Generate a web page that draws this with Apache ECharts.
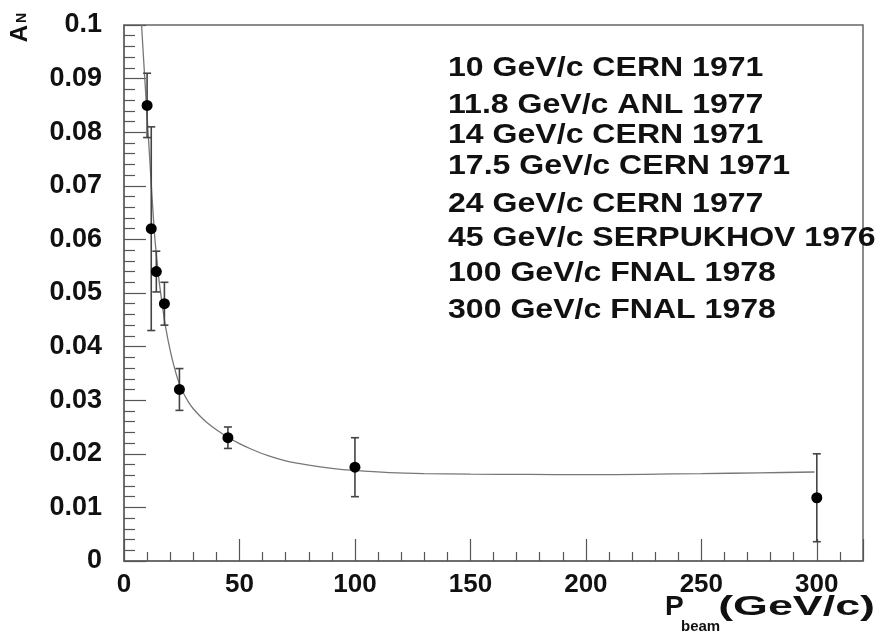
<!DOCTYPE html>
<html>
<head>
<meta charset="utf-8">
<script src="https://cdn.jsdelivr.net/npm/echarts@6/dist/echarts.min.js"></script>
<style>
  html, body { margin: 0; padding: 0; background: #fff; }
  #chart { width: 883px; height: 633px; }
</style>
</head>
<body>
<div id="chart"></div>
<script>
// ---- data ----
const pX   = [10, 11.8, 14, 17.5, 24, 45, 100, 300];
const pY   = [0.085, 0.062, 0.054, 0.048, 0.032, 0.023, 0.0175, 0.0118];
const pErr = [0.006, 0.019, 0.0038, 0.004, 0.0039, 0.002, 0.0055, 0.0082];

const curveX = [7.6, 8.5, 9.5, 10.5, 11.5, 12.5, 13.5, 15, 16.5, 18, 20, 22, 24, 26, 28, 30, 33, 36, 40, 45, 50, 55, 62, 70, 80, 90, 100, 115, 130, 150, 175, 200, 225, 250, 275, 299];
const curveY = [0.100, 0.0935, 0.0865, 0.0795, 0.0725, 0.0655, 0.0595, 0.0530, 0.0480, 0.0437, 0.0393, 0.0358, 0.0330, 0.0311, 0.0296, 0.0284, 0.0270, 0.0258, 0.0245, 0.0231, 0.0219, 0.0209, 0.0197, 0.0187, 0.0179, 0.0173, 0.0169, 0.0165, 0.0163, 0.0162, 0.01615, 0.0161, 0.01618, 0.0163, 0.01645, 0.0166];

const legendLines = [
  '10 GeV/c CERN 1971',
  '11.8 GeV/c ANL 1977',
  '14 GeV/c CERN 1971',
  '17.5 GeV/c CERN 1971',
  '24 GeV/c CERN 1977',
  '45 GeV/c SERPUKHOV 1976',
  '100 GeV/c FNAL 1978',
  '300 GeV/c FNAL 1978'
];

// ---- layout (not data) ----
const legendRowY = [68.5, 105, 135, 166.5, 204.5, 238.5, 273.5, 310];
const FONT = '"Liberation Sans", Arial, Helvetica, sans-serif';

const pointData = pX.map((x, i) => [x, pY[i], pErr[i]]);
const curveData = curveX.map((x, i) => [x, curveY[i]]);

const chart = echarts.init(document.getElementById('chart'), null, { renderer: 'canvas' });

const graphics = legendLines.map((t, i) => ({
  type: 'text',
  x: 448,
  y: legendRowY[i],
  scaleX: 1.145,
  z: 100,
  style: {
    text: t,
    font: 'bold 28px ' + FONT,
    fill: '#111',
    align: 'left',
    verticalAlign: 'middle'
  }
}));

// axis titles
graphics.push(
  { type: 'text', x: 20, y: 33.5, rotation: Math.PI / 2, z: 100,
    style: { text: 'A', font: 'bold 24px ' + FONT, fill: '#111', align: 'center', verticalAlign: 'middle' } },
  { type: 'text', x: 22, y: 18, rotation: Math.PI / 2, z: 100,
    style: { text: 'N', font: 'bold 14px ' + FONT, fill: '#111', align: 'center', verticalAlign: 'middle' } },
  { type: 'text', x: 665, y: 607, z: 100,
    style: { text: 'P', font: 'bold 28px ' + FONT, fill: '#111', align: 'left', verticalAlign: 'middle' } },
  { type: 'text', x: 681, y: 627, z: 100,
    style: { text: 'beam', font: 'bold 15px ' + FONT, fill: '#111', align: 'left', verticalAlign: 'middle' } },
  { type: 'text', x: 875, y: 607, scaleX: 1.6, z: 100,
    style: { text: '(GeV/c)', font: 'bold 28px ' + FONT, fill: '#111', align: 'right', verticalAlign: 'middle' } }
);

const axisColor = '#555';

chart.setOption({
  animation: false,
  backgroundColor: '#fff',
  grid: {
    left: 124, right: 20, top: 25, bottom: 72,
    show: true, borderColor: '#666', borderWidth: 1.5, backgroundColor: 'transparent'
  },
  xAxis: {
    type: 'value',
    min: 0, max: 320, interval: 50,
    axisLine: { show: true, lineStyle: { color: '#666', width: 1.5 } },
    axisTick: { show: true, inside: true, length: 22, lineStyle: { color: axisColor, width: 1.2 } },
    minorTick: { show: true, splitNumber: 5, length: 9, lineStyle: { color: axisColor, width: 1.2 } },
    splitLine: { show: false },
    axisLabel: { fontSize: 26, fontWeight: 'bold', fontFamily: FONT, color: '#111', margin: 11, showMaxLabel: false }
  },
  yAxis: {
    type: 'value',
    min: 0, max: 0.1, interval: 0.01,
    axisLine: { show: true, lineStyle: { color: '#666', width: 1.5 } },
    axisTick: { show: true, inside: true, length: 22, lineStyle: { color: axisColor, width: 1.2 } },
    minorTick: { show: true, splitNumber: 5, length: 11, lineStyle: { color: axisColor, width: 1.2 } },
    splitLine: { show: false },
    axisLabel: { fontSize: 27, fontWeight: 'bold', fontFamily: FONT, color: '#111', margin: 22 }
  },
  graphic: graphics,
  series: [
    {
      type: 'line',
      data: curveData,
      showSymbol: false,
      symbol: 'none',
      smooth: 0.3,
      lineStyle: { color: '#777', width: 1.3 },
      z: 2,
      silent: true
    },
    {
      type: 'custom',
      data: pointData,
      z: 3,
      silent: true,
      renderItem: function (params, api) {
        const x = api.value(0), y = api.value(1), e = api.value(2);
        const top = api.coord([x, y + e]);
        const bot = api.coord([x, y - e]);
        const cap = 4;
        const st = { stroke: '#444', lineWidth: 1.6 };
        return {
          type: 'group',
          children: [
            { type: 'line', shape: { x1: top[0], y1: top[1], x2: bot[0], y2: bot[1] }, style: st },
            { type: 'line', shape: { x1: top[0] - cap, y1: top[1], x2: top[0] + cap, y2: top[1] }, style: st },
            { type: 'line', shape: { x1: bot[0] - cap, y1: bot[1], x2: bot[0] + cap, y2: bot[1] }, style: st }
          ]
        };
      }
    },
    {
      type: 'scatter',
      data: pointData.map(d => [d[0], d[1]]),
      symbol: 'circle',
      symbolSize: 11,
      itemStyle: { color: '#000', opacity: 1 },
      z: 4,
      silent: true
    }
  ]
});
</script>
</body>
</html>
